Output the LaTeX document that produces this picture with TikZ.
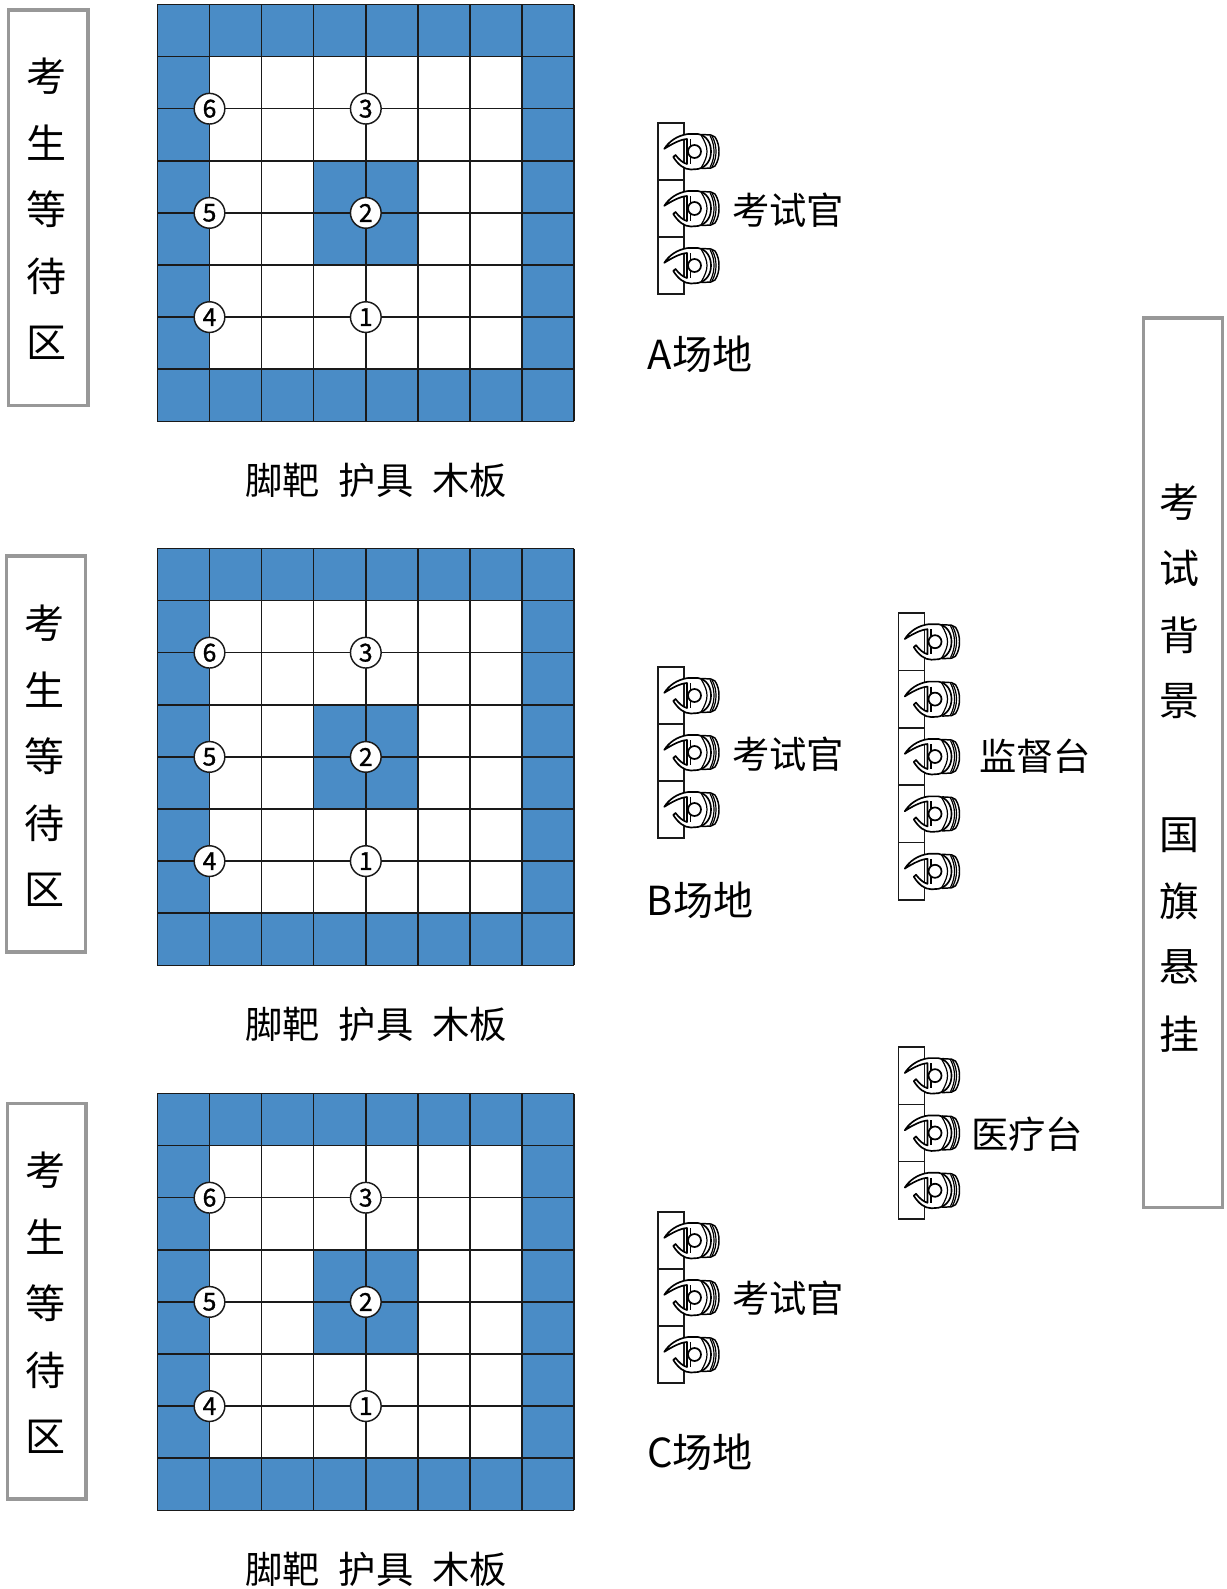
\documentclass[tikz,border=0pt]{standalone}
\usepackage{fontspec}
\setmainfont{Noto Sans CJK SC}
\newfontfamily\digitfont[FakeBold=1.2]{Noto Sans CJK SC}
\definecolor{zoneblue}{HTML}{4A8CC6}
\definecolor{boxgray}{HTML}{989898}
\definecolor{inkline}{HTML}{1A1A1A}
\tikzset{
  gridline/.style={inkline,line width=1.15pt},
  numdot/.style={circle,draw=inkline,fill=white,line width=1.1pt,minimum size=23pt,inner sep=0pt,font=\digitfont\fontsize{18.5}{18.5}\selectfont},
  waitbox/.style={draw=boxgray,line width=2.4pt,fill=white},
  bigchar/.style={font=\fontsize{30}{30}\selectfont,inner sep=0pt,text=black},
  labeltext/.style={font=\fontsize{28}{28}\selectfont,inner sep=0pt,text=black},
  sitetext/.style={font=\fontsize{30}{30}\selectfont,inner sep=0pt,text=black},
  deskline/.style={inkline,line width=1.1pt},
  figline/.style={black,line width=0.9pt,line join=round},
  seatfig/.pic={
    \draw[figline,fill=white,line width=1.1pt] (44,-17) -- (53,-16.5) -- (57,-14.5) .. controls (60,-10) and (61,-5) .. (61,0) .. controls (61,5) and (60,10) .. (57,14.5) -- (53,16.5) -- (44,17) -- cycle;
    \draw[figline] (54,-15.5) .. controls (57,-10) and (58,-5) .. (58,0) .. controls (58,5) and (57,10) .. (54,15.5);
    \draw[figline] (52,-16) .. controls (55,-10) and (56,-5) .. (56,0) .. controls (56,5) and (55,10) .. (52,16);
    \draw[figline,fill=white,line width=1.25pt] (6.3,-2.7) .. controls (11,-10) and (19,-16) .. (30,-17.5) -- (40,-17.5) .. controls (49,-16) and (53,-8) .. (53,0) .. controls (53,8) and (49,15.5) .. (40,17.5) -- (33,18) .. controls (26,18) and (20,13) .. (15.3,5.5) -- (17.5,3.5) .. controls (21,8) and (25,11.5) .. (29,12.5) -- (29,-12.5) .. controls (22,-12) and (14,-7.5) .. (6.3,-2.7) -- cycle;
    \draw[figline] (43,-16.5) .. controls (47,-10) and (49,-5) .. (49,0) .. controls (49,5) and (47,10) .. (43,16.5);
    \draw[figline] (32.5,-12.5) -- (32.5,12.5);
    \draw[figline,fill=white,line width=1.3pt] (36.5,0) circle (6.5);
  },
}
\newcommand{\DeskRow}[4]{%
  \begin{scope}[shift={(#1,#2)}]
    \pgfmathsetmacro{\deskH}{#3*#4}
    \draw[deskline] (0,0) rectangle (26,\deskH);
    \foreach \k in {1,...,#3}{
      \pgfmathsetmacro{\cy}{(\k-0.5)*#4}
      \pgfmathsetmacro{\ly}{\k*#4}
      \ifnum\k<#3 \draw[deskline] (0,\ly) -- (26,\ly);\fi
      \pic at (0,\cy) {seatfig};
    }
  \end{scope}}
\newcommand{\ZoneGrid}[3]{%
  \begin{scope}[shift={(#1,#2)}]
    \fill[zoneblue] (0,0) rectangle (416.8,416.8);
    \fill[white] (52.1,52.1) rectangle (364.7,364.7);
    \fill[zoneblue] (156.3,156.3) rectangle (260.5,260.5);
    \foreach \k in {0,...,8}{
      \pgfmathsetmacro{\p}{\k*52.1}
      \draw[gridline] (\p,0) -- (\p,416.8);
      \draw[gridline] (0,\p) -- (416.8,\p);
    }
    \node[numdot] (#3six) at (52.1,104.2) {6};
    \node[numdot] (#3three) at (208.4,104.2) {3};
    \node[numdot] (#3five) at (52.1,208.4) {5};
    \node[numdot] (#3two) at (208.4,208.4) {2};
    \node[numdot] (#3four) at (52.1,312.6) {4};
    \node[numdot] (#3one) at (208.4,312.6) {1};
  \end{scope}
  \node[labeltext] (#3gear) at (376,#2+476) {脚靶\hspace{14pt}护具\hspace{14pt}木板};}
\newcommand{\WaitZone}[6]{%
  \draw[waitbox] (#1,#2) rectangle (#3,#4);
  \foreach \c [count=\n from 0] in {考,生,等,待,区}{
    \pgfmathsetmacro{\yy}{#6+\n*66.7}
    \node[bigchar] (#5\n) at ({(#1+#3)/2-1.5},\yy) {\c};
  }}
\begin{document}
\begin{tikzpicture}[x=0.75pt,y=-0.75pt]
\useasboundingbox (0,0) rectangle (1227,1589);
\ZoneGrid{157.4}{4.5}{ga}
\ZoneGrid{157.4}{548.5}{gb}
\ZoneGrid{157.4}{1093.5}{gc}
\WaitZone{8.5}{10}{88}{405.5}{wa}{76}
\WaitZone{6.5}{556}{85.5}{952}{wb}{623}
\WaitZone{7.5}{1103.5}{86}{1499}{wc}{1170}
\draw[waitbox] (1143.5,318) rectangle (1222.5,1207.5);
\foreach \c/\yy [count=\n] in {考/502,试/568,背/635,景/701,国/835,旗/901,悬/967,挂/1034}{
  \node[bigchar] (bg\n) at (1179.5,\yy) {\c};
}
\DeskRow{658}{123}{3}{57}
\DeskRow{658}{667}{3}{57}
\DeskRow{658}{1212}{3}{57}
\DeskRow{898.5}{613}{5}{57.4}
\DeskRow{898.5}{1047}{3}{57.3}
\node[labeltext] (ka) at (788,210) {考试官};
\node[labeltext] (kb) at (788,754) {考试官};
\node[labeltext] (kc) at (788,1298) {考试官};
\node[sitetext] (sa) at (700,354.5) {A场地};
\node[sitetext] (sb) at (700,900.5) {B场地};
\node[sitetext] (sc) at (700,1452.5) {C场地};
\node[labeltext] (jd) at (1035,756) {监督台};
\node[labeltext] (yl) at (1027,1134) {医疗台};
\end{tikzpicture}
\end{document}
